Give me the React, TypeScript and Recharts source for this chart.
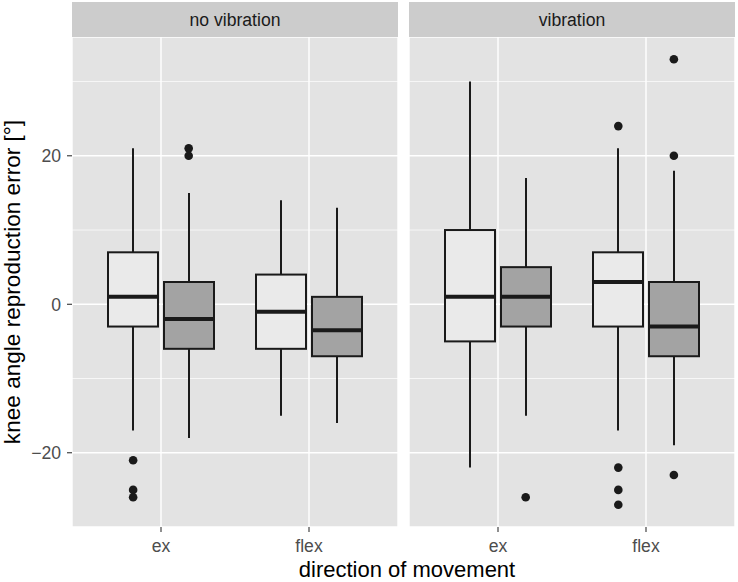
import React from "react";
import { ComposedChart, Bar, Scatter, XAxis, YAxis, CartesianGrid } from "recharts";

const categories = ["ex", "flex"];
const facets = ["no vibration", "vibration"];
const majorTicks = [-20, 0, 20];
const minorTicks = [-10, 10, 30];

// [lower whisker, Q1, median, Q3, upper whisker] per category
const noVibLight = [[-17, -3, 1, 7, 21], [-15, -6, -1, 4, 14]];
const noVibDark = [[-18, -6, -2, 3, 15], [-16, -7, -3.5, 1, 13]];
const vibLight = [[-22, -5, 1, 10, 30], [-17, -3, 3, 7, 21]];
const vibDark = [[-15, -3, 1, 5, 17], [-19, -7, -3, 3, 18]];

// outliers per category
const noVibLightOut = [[-21, -25, -26], []];
const noVibDarkOut = [[20, 21], []];
const vibLightOut = [[], [24, -22, -25, -27]];
const vibDarkOut = [[-26], [33, 20, -23]];

const FONT = "'Liberation Sans', Arial, sans-serif";
const INK = "#1A1A1A";
const DODGE = 0.1875;

const fmt = (v: number) => (v < 0 ? "\u2212" + Math.abs(v) : String(v));

const boxShape = (key: string, fill: string) => (props: any) => {
  const { x, y, width, height, payload } = props;
  const [lo, q1, med, q3, hi] = payload[key] as number[];
  const top = Math.min(y, y + height);
  const bot = Math.max(y, y + height);
  // linear map taken from the bar's own scaled extent (lo..hi)
  const py = (v: number) => bot + ((top - bot) * (v - lo)) / (hi - lo);
  const cx = x + width / 2;
  return (
    <g>
      <line x1={cx} x2={cx} y1={py(hi)} y2={py(q3)} stroke={INK} strokeWidth={2} />
      <line x1={cx} x2={cx} y1={py(q1)} y2={py(lo)} stroke={INK} strokeWidth={2} />
      <rect x={x} y={py(q3)} width={width} height={py(q1) - py(q3)} fill={fill} stroke={INK} strokeWidth={2} />
      <line x1={x} x2={x + width} y1={py(med)} y2={py(med)} stroke={INK} strokeWidth={4} />
    </g>
  );
};

const dot = (p: any) => <circle cx={p.cx} cy={p.cy} r={4.3} fill={INK} />;

interface PanelProps {
  light: number[][];
  dark: number[][];
  lightOut: number[][];
  darkOut: number[][];
  showY: boolean;
  width: number;
  margin: { top: number; right: number; bottom: number; left: number };
}

const Panel: React.FC<PanelProps> = ({ light, dark, lightOut, darkOut, showY, width, margin }) => {
  const rows = categories.map((c, i) => ({
    cat: c,
    light: [light[i][0], light[i][4]],
    dark: [dark[i][0], dark[i][4]],
    lightStats: light[i],
    darkStats: dark[i],
  }));
  const outliers = categories.flatMap((_, i) => [
    ...lightOut[i].map((v) => ({ x: i + 1 - DODGE, y: v })),
    ...darkOut[i].map((v) => ({ x: i + 1 + DODGE, y: v })),
  ]);
  return (
    <ComposedChart width={width} height={582} data={rows} margin={margin} barGap={6}>
      <CartesianGrid
        xAxisId="cat"
        fill="#E3E3E3"
        fillOpacity={1}
        stroke="#FFFFFF"
        strokeWidth={0.7}
        vertical={false}
        horizontalValues={minorTicks}
      />
      <CartesianGrid xAxisId="cat" stroke="#FFFFFF" strokeWidth={1.4} />
      <XAxis
        xAxisId="cat"
        dataKey="cat"
        padding={{ left: 15, right: 15 }}
        height={30}
        axisLine={false}
        tickSize={5}
        tickMargin={7.5}
        tickLine={{ stroke: "#333333", strokeWidth: 1.1 }}
        tick={{ fill: "#4D4D4D", fontSize: 17.6, fontFamily: FONT }}
      />
      <XAxis xAxisId="num" dataKey="x" type="number" domain={[0.4, 2.6]} allowDataOverflow hide />
      <YAxis
        type="number"
        domain={[-30, 36]}
        allowDataOverflow
        ticks={majorTicks}
        tickFormatter={fmt}
        hide={!showY}
        width={72}
        axisLine={false}
        tickSize={5}
        tickMargin={6}
        tickLine={{ stroke: "#333333", strokeWidth: 1.1 }}
        tick={{ fill: "#4D4D4D", fontSize: 17.6, fontFamily: FONT }}
      />
      <Bar xAxisId="cat" dataKey="light" barSize={50} shape={boxShape("lightStats", "#EAEAEA")} isAnimationActive={false} />
      <Bar xAxisId="cat" dataKey="dark" barSize={50} shape={boxShape("darkStats", "#A3A3A3")} isAnimationActive={false} />
      <Scatter xAxisId="num" data={outliers} dataKey="y" shape={dot} isAnimationActive={false} />
    </ComposedChart>
  );
};

const strip: React.CSSProperties = {
  position: "absolute",
  top: 2,
  height: 34,
  paddingTop: 1,
  lineHeight: "35px",
  background: "#CCCCCC",
  color: INK,
  fontSize: 17.6,
  textAlign: "center",
};

export default function App() {
  return (
    <div style={{ position: "absolute", left: 0, top: 0, width: 738, height: 582, background: "#fff", fontFamily: FONT }}>
      <div style={{ position: "absolute", left: 0, top: 0 }}>
        <Panel
          light={noVibLight}
          dark={noVibDark}
          lightOut={noVibLightOut}
          darkOut={noVibDarkOut}
          showY
          width={404}
          margin={{ top: 37, right: 6, bottom: 25, left: 0 }}
        />
      </div>
      <div style={{ position: "absolute", left: 409, top: 0 }}>
        <Panel
          light={vibLight}
          dark={vibDark}
          lightOut={vibLightOut}
          darkOut={vibDarkOut}
          showY={false}
          width={329}
          margin={{ top: 37, right: 3, bottom: 25, left: 0 }}
        />
      </div>
      <div style={{ ...strip, left: 72, width: 326 }}>{facets[0]}</div>
      <div style={{ ...strip, left: 409, width: 326 }}>{facets[1]}</div>
      <div
        style={{
          position: "absolute",
          left: 12.6 - 250,
          top: 282 - 11,
          width: 500,
          height: 22,
          lineHeight: "22px",
          fontSize: 22.6,
          textAlign: "center",
          color: "#000",
          transform: "rotate(-90deg)",
          whiteSpace: "nowrap",
        }}
      >
        knee angle reproduction error [°]
      </div>
      <div
        style={{
          position: "absolute",
          left: 407 - 200,
          top: 559,
          width: 400,
          height: 22,
          lineHeight: "22px",
          fontSize: 22,
          textAlign: "center",
          color: "#000",
          whiteSpace: "nowrap",
        }}
      >
        direction of movement
      </div>
    </div>
  );
}
